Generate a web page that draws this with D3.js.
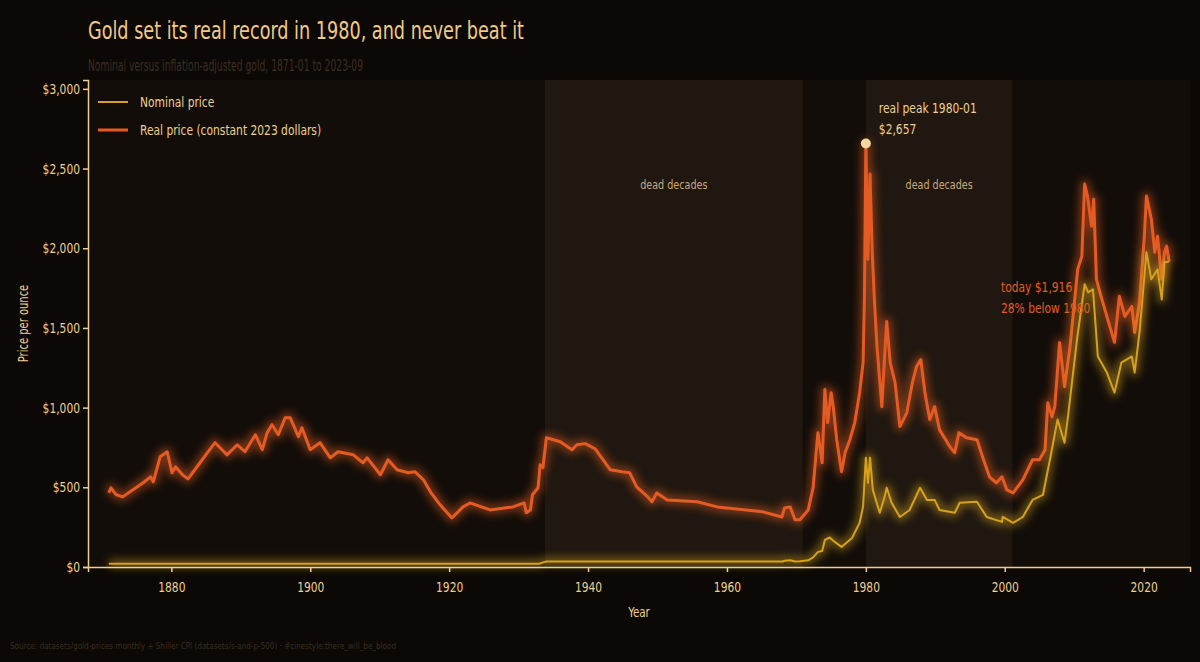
<!DOCTYPE html>
<html>
<head>
<meta charset="utf-8">
<script src="https://cdn.jsdelivr.net/npm/d3@7"></script>
<style>
  html, body { margin: 0; padding: 0; background: #0b0805; }
  svg text { font-family: "DejaVu Sans Condensed", "DejaVu Sans", sans-serif; }
</style>
</head>
<body>
<div id="chart"></div>
<script>
// real price, constant 2023 dollars
const realYears = [1871.0,1871.3,1872.0,1873.0,1874.0,1875.0,1876.0,1877.0,1877.4,1878.4,1879.4,1880.1,1880.6,1881.6,1882.4,1883.7,1885.2,1886.3,1887.3,1888.0,1889.5,1890.6,1892.1,1893.1,1893.8,1894.5,1895.4,1896.4,1897.1,1898.3,1898.8,1900.0,1901.4,1902.9,1904.0,1906.2,1907.6,1908.2,1910.1,1911.2,1912.5,1914.1,1915.1,1916.3,1917.3,1918.7,1920.4,1922.0,1923.0,1925.9,1929.2,1930.8,1931.1,1931.7,1932.0,1932.8,1933.1,1933.5,1934.0,1936.0,1937.7,1938.4,1939.6,1941.0,1943.2,1944.9,1946.0,1947.0,1948.6,1949.2,1949.9,1951.4,1955.7,1958.6,1965.2,1967.9,1968.3,1969.1,1969.8,1970.5,1971.7,1972.4,1973.1,1973.7,1974.1,1974.5,1975.0,1975.3,1975.8,1976.5,1977.0,1977.7,1978.4,1979.1,1979.6,1979.8,1980.0,1980.3,1980.6,1980.9,1981.2,1981.6,1982.3,1982.7,1983.0,1983.5,1984.2,1984.9,1985.9,1986.7,1987.3,1987.9,1988.5,1989.2,1989.9,1990.6,1992.1,1992.8,1993.4,1994.5,1996.0,1996.8,1997.8,1998.8,1999.6,2000.3,2001.2,2002.6,2004.0,2005.0,2005.8,2006.2,2006.8,2007.2,2007.9,2008.6,2009.4,2010.5,2011.1,2011.5,2011.9,2012.5,2012.8,2013.2,2013.7,2014.7,2015.8,2016.5,2017.3,2018.3,2018.7,2019.4,2020.1,2020.4,2021.1,2021.6,2022.0,2022.6,2023.0,2023.3,2023.67];
const realValues = [465,497,455,440,470,500,530,566,535,692,723,591,629,579,553,629,717,780,736,704,767,723,830,736,843,893,830,937,937,818,874,736,780,685,723,704,654,685,579,673,610,591,597,547,472,390,308,377,402,358,377,402,340,358,453,497,641,623,811,786,736,767,774,742,610,597,591,503,440,409,465,421,409,377,346,314,371,377,296,296,358,497,843,654,1113,906,1094,1006,799,597,717,799,906,1094,1283,1700,2657,1931,2465,1994,1698,1384,1006,1321,1541,1283,1157,881,969,1157,1258,1302,1094,925,1006,862,755,717,843,811,799,692,566,528,566,484,465,547,673,673,736,1031,943,1006,1409,1132,1384,1868,1950,2403,2327,2138,2308,1805,1723,1572,1409,1698,1572,1635,1472,1660,2075,2327,2182,1975,2075,1805,1975,2013,1916];

// nominal price
const nomYears = [1871.0,1933.0,1933.3,1934.0,1968.0,1968.3,1969.1,1969.8,1970.5,1971.7,1972.4,1973.1,1973.7,1974.1,1974.8,1975.3,1976.5,1977.0,1978.0,1979.1,1979.6,1980.0,1980.3,1980.6,1981.0,1982.0,1982.7,1983.0,1983.7,1984.9,1986.3,1987.8,1988.8,1989.9,1990.6,1992.8,1993.5,1996.0,1997.4,1999.6,1999.7,2001.2,2002.6,2004.0,2005.5,2006.5,2007.6,2008.6,2009.1,2010.4,2011.5,2012.0,2012.7,2013.4,2014.7,2015.8,2016.8,2018.3,2018.7,2019.4,2020.4,2021.1,2022.0,2022.6,2023.0,2023.67];
const nomValues = [20.67,20.67,26,35,35,39,42,35,36,42,60,95,100,170,185,165,126,145,182,277,380,686,528,686,484,340,440,497,403,314,358,497,421,421,358,340,403,409,314,283,314,277,314,421,453,673,925,780,943,1428,1774,1723,1742,1321,1220,1094,1283,1321,1220,1472,1975,1805,1868,1679,1912,1916];

const yTicks = [0, 500, 1000, 1500, 2000, 2500, 3000];
const xTicks = [1880, 1900, 1920, 1940, 1960, 1980, 2000, 2020];
const deadDecades = [[1933.8, 1970.9], [1980.0, 2001.1]];
const peak = { year: 1980.0, value: 2657 };

const W = 1200, H = 662;
const margin = { top: 80, right: 10, bottom: 95, left: 88 };
const width = W - margin.left - margin.right,
      height = H - margin.top - margin.bottom;

const cream = "#efcf8f", realC = "#e55b24", nomC = "#d6a11d";

const svg = d3.select("#chart").append("svg")
    .attr("width", W).attr("height", H);

svg.append("rect").attr("width", W).attr("height", H).attr("fill", "#0b0805");

// glow filter
const defs = svg.append("defs");
const f = defs.append("filter").attr("id", "glow")
    .attr("x", "-10%").attr("y", "-10%").attr("width", "120%").attr("height", "120%");
f.append("feGaussianBlur").attr("stdDeviation", 4);

const g = svg.append("g").attr("transform", `translate(${margin.left},${margin.top})`);

const x = d3.scaleLinear().domain([1868.0, 2026.67]).range([0, width]);
const y = d3.scaleLinear().domain([0, peak.value * 1.15]).range([height, 0]);

g.append("rect").attr("width", width).attr("height", height).attr("fill", "#120d09");

g.selectAll(".band").data(deadDecades).join("rect")
    .attr("x", d => x(d[0])).attr("width", d => x(d[1]) - x(d[0]))
    .attr("y", 0).attr("height", height)
    .attr("fill", "#1f1710");

g.selectAll(".bandLabel").data(deadDecades).join("text")
    .attr("x", d => x((d[0] + d[1]) / 2)).attr("y", 109)
    .attr("text-anchor", "middle")
    .attr("fill", "#c9a87a").attr("font-size", 13)
    .text("dead decades");

const realData = realYears.map((yr, i) => [yr, realValues[i]]);
const nomData = nomYears.map((yr, i) => [yr, nomValues[i]]);
const line = d3.line().x(d => x(d[0])).y(d => y(d[1]));

function drawSeries(data, color, w) {
    g.append("path").datum(data)
        .attr("fill", "none").attr("stroke", color).attr("stroke-width", w + 6)
        .attr("stroke-opacity", 0.5).attr("stroke-linejoin", "round")
        .attr("filter", "url(#glow)").attr("d", line);
    g.append("path").datum(data)
        .attr("fill", "none").attr("stroke", color).attr("stroke-width", w)
        .attr("stroke-linejoin", "round").attr("d", line);
}
drawSeries(realData, realC, 3);
drawSeries(nomData, nomC, 2);

// axes
const xAxis = g.append("g").attr("transform", `translate(0,${height})`)
    .call(d3.axisBottom(x).tickValues(xTicks).tickFormat(d3.format("d")).tickSizeOuter(0).tickSize(5));
const yAxis = g.append("g")
    .call(d3.axisLeft(y).tickValues(yTicks).tickFormat(d => "$" + d3.format(",")(d)).tickSizeOuter(0).tickSize(5));
[xAxis, yAxis].forEach(a => {
    a.selectAll("path, line").attr("stroke", cream).attr("stroke-width", 1.5);
    a.selectAll("text").attr("fill", cream).attr("font-size", 14.5);
});
xAxis.selectAll("text").attr("dy", "1.2em");

g.append("text").attr("x", width / 2).attr("y", height + 50)
    .attr("text-anchor", "middle").attr("fill", cream).attr("font-size", 14).text("Year");
g.append("text").attr("transform", `translate(${-60},${height / 2}) rotate(-90)`)
    .attr("text-anchor", "middle").attr("fill", cream).attr("font-size", 13.5).text("Price per ounce");

// peak annotation
g.append("circle").attr("cx", x(peak.year)).attr("cy", y(peak.value)).attr("r", 5).attr("fill", "#f3d6a0");
g.append("text").attr("x", x(peak.year) + 13).attr("y", 33)
    .attr("fill", cream).attr("font-size", 14.5).text("real peak 1980-01");
g.append("text").attr("x", x(peak.year) + 13).attr("y", 54)
    .attr("fill", cream).attr("font-size", 14.5).text("$2,657");

// today annotation
const last = realData[realData.length - 1];
g.append("text").attr("x", 913).attr("y", 212)
    .attr("fill", realC).attr("font-size", 14.5).text("today $" + d3.format(",")(last[1]));
g.append("text").attr("x", 913).attr("y", 233)
    .attr("fill", realC).attr("font-size", 14.5)
    .text(Math.round((1 - last[1] / peak.value) * 100) + "% below 1980");

// legend
const legend = g.append("g").attr("transform", "translate(10,22)");
[["Nominal price", nomC, 2], ["Real price (constant 2023 dollars)", realC, 3]].forEach((d, i) => {
    const row = legend.append("g").attr("transform", `translate(0,${i * 28})`);
    row.append("line").attr("x1", 0).attr("x2", 30).attr("stroke", d[1]).attr("stroke-width", d[2] + 3)
        .attr("stroke-opacity", 0.4).attr("filter", "url(#glow)");
    row.append("line").attr("x1", 0).attr("x2", 30).attr("stroke", d[1]).attr("stroke-width", d[2]);
    row.append("text").attr("x", 42).attr("y", 5).attr("fill", cream).attr("font-size", 14.5).text(d[0]);
});

// titles
svg.append("text").attr("x", 88).attr("y", 39).attr("fill", "#f0ca84").attr("font-size", 25)
    .attr("textLength", 436).attr("lengthAdjust", "spacingAndGlyphs")
    .text("Gold set its real record in 1980, and never beat it");
svg.append("text").attr("x", 88).attr("y", 71).attr("fill", "#3b2f22").attr("font-size", 15)
    .attr("textLength", 275).attr("lengthAdjust", "spacingAndGlyphs")
    .text("Nominal versus inflation-adjusted gold, 1871-01 to 2023-09");
svg.append("text").attr("x", 10).attr("y", 649).attr("fill", "#3a2e20").attr("font-size", 9)
    .attr("textLength", 386).attr("lengthAdjust", "spacingAndGlyphs")
    .text("Source: datasets/gold-prices monthly + Shiller CPI (datasets/s-and-p-500)  ·  #cinestyle:there_will_be_blood");

// narrow the remaining labels to the condensed look of the original
svg.selectAll("text").each(function () {
    if (this.hasAttribute("textLength")) return;
    const L = this.getComputedTextLength();
    d3.select(this).attr("textLength", L * 0.82).attr("lengthAdjust", "spacingAndGlyphs");
});
</script>
</body>
</html>
